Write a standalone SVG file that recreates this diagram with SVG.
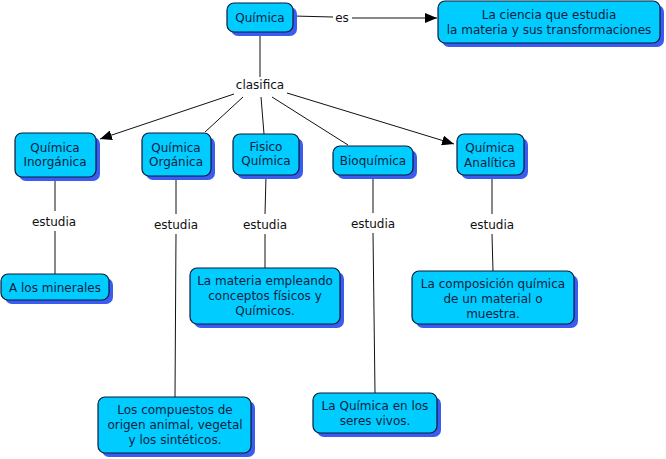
<svg xmlns="http://www.w3.org/2000/svg" width="666" height="459" viewBox="0 0 666 459">
<style>
.box{fill:#00CCFF;stroke:#0a1a3a;stroke-width:1.2}
.sh{fill:#3a5cf0}
.t{font-family:Verdana,"DejaVu Sans",sans-serif;font-size:12px;fill:#0d1f40;text-anchor:middle}
.l{font-family:Verdana,"DejaVu Sans",sans-serif;font-size:12px;fill:#111;text-anchor:middle}
.c{stroke:#111;stroke-width:1;fill:none}
</style>
<defs>
<marker id="ah" viewBox="0 0 12 10" refX="12" refY="5" markerWidth="12" markerHeight="10" markerUnits="userSpaceOnUse" orient="auto">
<path d="M0,0 L12,5 L0,10 z" fill="#000"/>
</marker>
</defs>
<rect width="666" height="459" fill="#fff"/>
<g id="connectors">
<line class="c" x1="293" y1="16" x2="333" y2="17"/>
<line class="c" x1="352" y1="18" x2="437" y2="18" marker-end="url(#ah)"/>
<line class="c" x1="260" y1="32" x2="260" y2="77"/>
<line class="c" x1="234" y1="94" x2="100" y2="139" marker-end="url(#ah)"/>
<line class="c" x1="243" y1="97" x2="205" y2="132"/>
<line class="c" x1="261" y1="97" x2="264" y2="134"/>
<line class="c" x1="272" y1="97" x2="348" y2="145"/>
<line class="c" x1="287" y1="93" x2="454" y2="144" marker-end="url(#ah)"/>
<line class="c" x1="55" y1="178" x2="55" y2="211"/>
<line class="c" x1="55" y1="231" x2="55" y2="274"/>
<line class="c" x1="176" y1="180" x2="176" y2="214"/>
<line class="c" x1="176" y1="234" x2="175" y2="397"/>
<line class="c" x1="266" y1="176" x2="265" y2="214"/>
<line class="c" x1="265" y1="234" x2="265" y2="268"/>
<line class="c" x1="373" y1="176" x2="373" y2="213"/>
<line class="c" x1="373" y1="233" x2="375" y2="393"/>
<line class="c" x1="492" y1="176" x2="492" y2="214"/>
<line class="c" x1="492" y1="234" x2="493" y2="271"/>
<text class="l" x="342" y="22">es</text>
<text class="l" x="260" y="89">clasifica</text>
<text class="l" x="54" y="226">estudia</text>
<text class="l" x="176" y="229">estudia</text>
<text class="l" x="265" y="229">estudia</text>
<text class="l" x="373" y="228">estudia</text>
<text class="l" x="492" y="229">estudia</text>
</g>
<g id="quimica">
<rect class="sh" x="231" y="7" width="66" height="29" rx="7"/>
<rect class="box" x="227" y="3" width="66" height="29" rx="7"/>
<text class="t" x="260" y="22">Química</text>
</g>
<g id="ciencia">
<rect class="sh" x="442" y="5" width="222" height="42" rx="7"/>
<rect class="box" x="438" y="1" width="222" height="42" rx="7"/>
<text class="t" x="549" y="19">La ciencia que estudia</text>
<text class="t" x="549" y="34">la materia y sus transformaciones</text>
</g>
<g id="inorganica">
<rect class="sh" x="19" y="137" width="81" height="44" rx="7"/>
<rect class="box" x="15" y="133" width="81" height="44" rx="7"/>
<text class="t" x="55" y="152">Química</text>
<text class="t" x="55" y="166">Inorgánica</text>
</g>
<g id="organica">
<rect class="sh" x="146" y="137" width="69" height="43" rx="7"/>
<rect class="box" x="142" y="133" width="69" height="43" rx="7"/>
<text class="t" x="176" y="152">Química</text>
<text class="t" x="176" y="166">Orgánica</text>
</g>
<g id="fisico">
<rect class="sh" x="237" y="138" width="66" height="41" rx="7"/>
<rect class="box" x="233" y="134" width="66" height="41" rx="7"/>
<text class="t" x="266" y="151">Fisico</text>
<text class="t" x="266" y="165">Química</text>
</g>
<g id="bioquimica">
<rect class="sh" x="337" y="150" width="80" height="29" rx="7"/>
<rect class="box" x="333" y="146" width="80" height="29" rx="7"/>
<text class="t" x="373" y="165">Bioquímica</text>
</g>
<g id="analitica">
<rect class="sh" x="461" y="138" width="67" height="41" rx="7"/>
<rect class="box" x="457" y="134" width="67" height="41" rx="7"/>
<text class="t" x="490" y="152">Química</text>
<text class="t" x="490" y="167">Analítica</text>
</g>
<g id="minerales">
<rect class="sh" x="5" y="278" width="108" height="26" rx="7"/>
<rect class="box" x="1" y="274" width="108" height="26" rx="7"/>
<text class="t" x="55" y="292">A los minerales</text>
</g>
<g id="materia">
<rect class="sh" x="194" y="272" width="150" height="56" rx="7"/>
<rect class="box" x="190" y="268" width="150" height="56" rx="7"/>
<text class="t" x="265" y="285">La materia empleando</text>
<text class="t" x="265" y="300">conceptos físicos y</text>
<text class="t" x="265" y="315">Químicos.</text>
</g>
<g id="composicion">
<rect class="sh" x="416" y="275" width="162" height="53" rx="7"/>
<rect class="box" x="412" y="271" width="162" height="53" rx="7"/>
<text class="t" x="493" y="288">La composición química</text>
<text class="t" x="493" y="303">de un material o</text>
<text class="t" x="493" y="318">muestra.</text>
</g>
<g id="compuestos">
<rect class="sh" x="102" y="401" width="153" height="56" rx="7"/>
<rect class="box" x="98" y="397" width="153" height="56" rx="7"/>
<text class="t" x="175" y="414">Los compuestos de</text>
<text class="t" x="175" y="429">origen animal, vegetal</text>
<text class="t" x="175" y="444">y los sintéticos.</text>
</g>
<g id="seresvivos">
<rect class="sh" x="317" y="397" width="124" height="40" rx="7"/>
<rect class="box" x="313" y="393" width="124" height="40" rx="7"/>
<text class="t" x="375" y="410">La Química en los</text>
<text class="t" x="375" y="425">seres vivos.</text>
</g>
</svg>
